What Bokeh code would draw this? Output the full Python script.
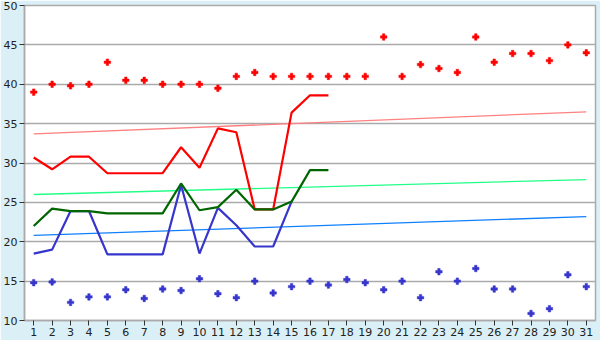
from bokeh.plotting import figure
from bokeh.models import FixedTicker, Range1d
from bokeh.embed import file_html
from bokeh.resources import INLINE

days = list(range(1, 32))

red_pts = [39.0, 40.0, 39.8, 40.0, 42.8, 40.5, 40.5, 40.0, 40.0, 40.0,
           39.5, 41.0, 41.5, 41.0, 41.0, 41.0, 41.0, 41.0, 41.0, 46.0,
           41.0, 42.5, 42.0, 41.5, 46.0, 42.8, 43.9, 43.9, 43.0, 45.0, 44.0]
blue_pts = [14.8, 14.9, 12.3, 13.0, 13.0, 13.9, 12.8, 14.0, 13.8, 15.3,
            13.4, 12.9, 15.0, 13.5, 14.3, 15.0, 14.5, 15.2, 14.8, 13.9,
            15.0, 12.9, 16.2, 15.0, 16.6, 14.0, 14.0, 10.9, 11.5, 15.8, 14.3]

red_line_days = list(range(1, 18))
red_line = [30.7, 29.2, 30.8, 30.8, 28.7, 28.7, 28.7, 28.7, 32.0, 29.4,
            34.4, 33.9, 24.1, 24.1, 36.4, 38.6, 38.6]
green_line_days = list(range(1, 18))
green_line = [22.0, 24.2, 23.9, 23.9, 23.6, 23.6, 23.6, 23.6, 27.4, 24.0,
              24.4, 26.6, 24.1, 24.1, 25.1, 29.1, 29.1]
blue_line_days = list(range(1, 16))
blue_line = [18.5, 19.0, 23.9, 23.9, 18.4, 18.4, 18.4, 18.4, 27.2, 18.5,
             24.3, 22.1, 19.4, 19.4, 25.1]

trend_days = [1, 31]
red_trend = [33.7, 36.5]
green_trend = [26.0, 27.9]
blue_trend = [20.8, 23.2]

y_ticks = [10, 15, 20, 25, 30, 35, 40, 45, 50]

p = figure(width=600, height=340, output_backend="svg", toolbar_location=None,
           x_range=Range1d(0.5, 31.5), y_range=Range1d(10, 50),
           min_border_left=20, min_border_right=5, min_border_top=5, min_border_bottom=20)
p.border_fill_color = "#DBEFF6"
p.background_fill_color = "white"
p.outline_line_color = "#AAAAAA"
p.outline_line_width = 1.5

p.xgrid.grid_line_color = None
p.ygrid.grid_line_color = "#AAAAAA"
p.ygrid.grid_line_width = 1.5
p.ygrid.ticker = FixedTicker(ticks=y_ticks)

p.xaxis.ticker = FixedTicker(ticks=days)
p.yaxis.ticker = FixedTicker(ticks=y_ticks)
for ax in (p.xaxis[0], p.yaxis[0]):
    ax.axis_line_color = "#AAAAAA"
    ax.axis_line_width = 1.5
    ax.major_tick_line_color = "#333333"
    ax.major_tick_in = 0
    ax.major_tick_out = 5
    ax.minor_tick_line_color = None
    ax.major_label_text_font = "DejaVu Sans"
    ax.major_label_text_font_size = "11px"
    ax.major_label_text_color = "#222222"
    ax.major_label_standoff = 2

# trend lines
p.line(trend_days, red_trend, line_color="#FF8080", line_width=1.3)
p.line(trend_days, green_trend, line_color="#22FF88", line_width=1.3)
p.line(trend_days, blue_trend, line_color="#1080FF", line_width=1.3)

# main lines
p.line(red_line_days, red_line, line_color="#FF0000", line_width=2.2)
p.line(blue_line_days, blue_line, line_color="#3636CC", line_width=2.2)
p.line(green_line_days, green_line, line_color="#006600", line_width=2.2)

# scatter points
p.scatter(days, red_pts, marker="plus", size=6.5, fill_color="#FF0000", line_color="#FF0000", line_width=0.5)
p.scatter(days, blue_pts, marker="plus", size=6.5, fill_color="#3636CC", line_color="#3636CC", line_width=0.5)

open("out.html", "w").write(file_html(p, INLINE))
